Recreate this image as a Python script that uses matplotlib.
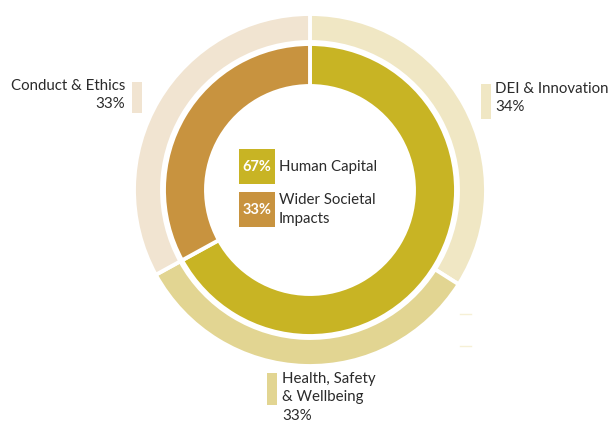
import matplotlib.pyplot as plt
from matplotlib.patches import Rectangle

plt.rcParams['font.family'] = ['Lato', 'DejaVu Sans']

# inner ring
inner_labels = ['Human Capital', 'Wider Societal\nImpacts']
inner_values = [67, 33]
inner_colors = ['#C8B424', '#C8933F']

# outer ring
outer_labels = ['DEI & Innovation', 'Health, Safety\n& Wellbeing', 'Conduct & Ethics']
outer_values = [34, 33, 33]
outer_colors = ['#F0E7C4', '#E2D592', '#F1E4D1']

W, H = 615, 428
fig = plt.figure(figsize=(W / 100, H / 100), dpi=100)
ax = fig.add_axes([0, 0, 1, 1])

cx, cy = 310, H - 190

ax.pie(outer_values, colors=outer_colors, radius=176, center=(cx, cy),
       startangle=90, counterclock=False,
       wedgeprops=dict(width=28, edgecolor='white', linewidth=2.8))
ax.pie(inner_values, colors=inner_colors, radius=146, center=(cx, cy),
       startangle=90, counterclock=False,
       wedgeprops=dict(width=42, edgecolor='white', linewidth=2.8))

ax.set_xlim(0, W)
ax.set_ylim(0, H)
ax.set_aspect('equal')
ax.axis('off')

txt = '#2B2B2B'
fs = 10.8
ls = 1.4

# outer labels with colour bars
ax.add_patch(Rectangle((132, H - 113), 10, 31, color=outer_colors[2], lw=0))
ax.text(125, H - 79, outer_labels[2] + '\n33%', ha='right', va='top',
        fontsize=fs, color=txt, linespacing=ls)

ax.add_patch(Rectangle((481, H - 119), 10, 35, color=outer_colors[0], lw=0))
ax.text(495, H - 82, outer_labels[0] + '\n34%', ha='left', va='top',
        fontsize=fs, color=txt, linespacing=ls)

ax.add_patch(Rectangle((267, H - 405), 10, 32, color=outer_colors[1], lw=0))
ax.text(282, H - 372, outer_labels[1] + '\n33%', ha='left', va='top',
        fontsize=fs, color=txt, linespacing=ls)

# faint leader marks on the right
ax.plot([460, 471], [H - 314, H - 314], color='#F6F0D6', lw=1)
ax.plot([460, 471], [H - 346, H - 346], color='#F6F0D6', lw=1)

# centre legend
box_y = [H - 184, H - 227]
for i in range(2):
    ax.add_patch(Rectangle((239, box_y[i]), 36, 35, color=inner_colors[i], lw=0))
    ax.text(257, box_y[i] + 17, f'{inner_values[i]}%', ha='center', va='center',
            fontsize=10.5, color='white', fontweight='bold')
    ax.text(279, box_y[i] + 17.5, inner_labels[i], ha='left', va='center',
            fontsize=fs, color=txt, linespacing=ls)

fig.savefig('out.png', dpi=100)
